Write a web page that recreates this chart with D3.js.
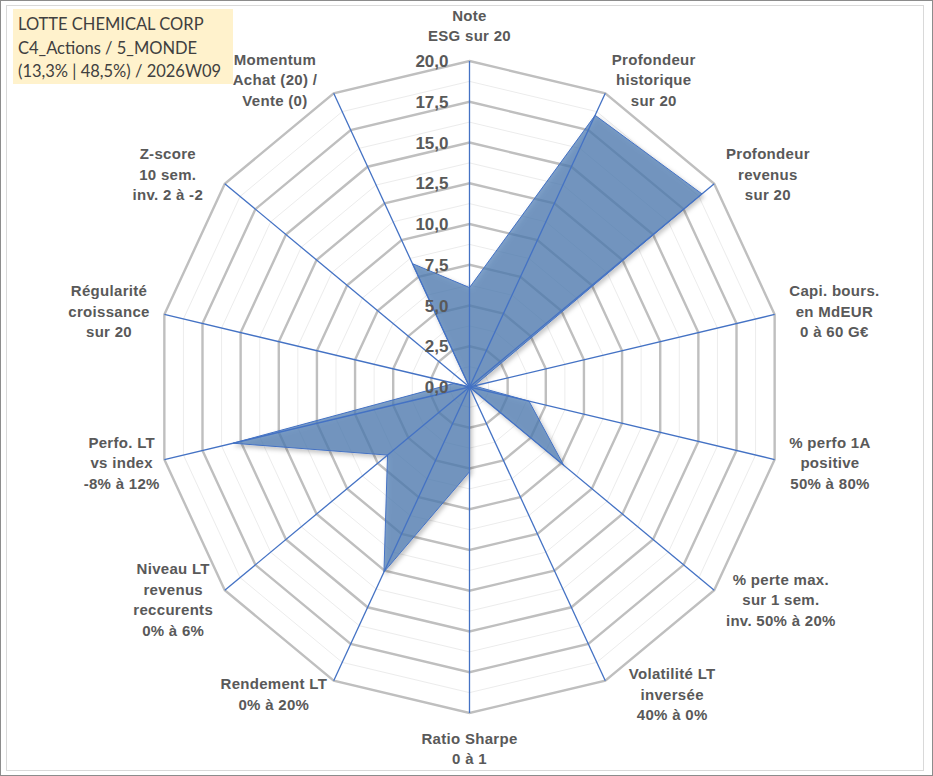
<!DOCTYPE html>
<html><head><meta charset="utf-8">
<script src="https://cdn.jsdelivr.net/npm/d3@7/dist/d3.min.js"></script>
<style>
html,body{margin:0;padding:0;background:#fff;}
svg{display:block;}
</style></head>
<body>
<svg id="chart" width="933" height="776"></svg>
<script>
// ---------- DATA ----------
const categories = [
  ["Note", "ESG sur 20"],
  ["Profondeur", "historique", "sur 20"],
  ["Profondeur", "revenus", "sur 20"],
  ["Capi. bours.", "en MdEUR", "0 à 60 G€"],
  ["% perfo 1A", "positive", "50% à 80%"],
  ["% perte max.", "sur 1 sem.", "inv. 50% à 20%"],
  ["Volatilité LT", "inversée", "40% à 0%"],
  ["Ratio Sharpe", "0 à 1"],
  ["Rendement LT", "0% à 20%"],
  ["Niveau LT", "revenus", "reccurents", "0% à 6%"],
  ["Perfo. LT", "vs index", "-8% à 12%"],
  ["Régularité", "croissance", "sur 20"],
  ["Z-score", "10 sem.", "inv. 2 à -2"],
  ["Momentum", "Achat (20) /", "Vente (0)"]
];
const values = [6.1, 18.5, 19.0, 0.3, 3.9, 7.7, 0.0, 5.2, 12.6, 6.7, 15.5, 1.0, 0.0, 8.4];
const tickValues = [0, 2.5, 5, 7.5, 10, 12.5, 15, 17.5, 20];
const minorValues = [1.25, 3.75, 6.25, 8.75, 11.25, 13.75, 16.25, 18.75];
const titleLines = ["LOTTE CHEMICAL CORP", "C4_Actions / 5_MONDE", "(13,3% | 48,5%) / 2026W09"];

// ---------- LAYOUT ----------
const W = 933, H = 776;
const cx = 469.5, cy = 387, rx = 313, ry = 326;
const n = categories.length;
const svg = d3.select("#chart");

const rScale = d3.scaleLinear().domain([0, 20]).range([0, 1]);
const aScale = d3.scaleLinear().domain([0, n]).range([0, 2 * Math.PI]);
const pt = (i, v) => [cx + rx * rScale(v) * Math.sin(aScale(i)), cy - ry * rScale(v) * Math.cos(aScale(i))];

// defs
const defs = svg.append("defs");
const f = defs.append("filter").attr("id", "shadow").attr("x", "-20%").attr("y", "-20%").attr("width", "140%").attr("height", "140%");
f.append("feDropShadow").attr("dx", 2).attr("dy", 2.5).attr("stdDeviation", 2).attr("flood-color", "#000").attr("flood-opacity", 0.3);

// borders
svg.append("rect").attr("x", 0.5).attr("y", 0.5).attr("width", W - 1).attr("height", H - 1)
  .attr("fill", "#fff").attr("stroke", "#8c8c8c").attr("stroke-width", 1);
svg.append("rect").attr("x", 6.5).attr("y", 5.5).attr("width", 917).attr("height", 765)
  .attr("fill", "none").attr("stroke", "#d9d9d9").attr("stroke-width", 1);

// title box
svg.append("rect").attr("x", 13).attr("y", 9).attr("width", 220).attr("height", 75).attr("fill", "#FFF2CC");
svg.append("g").selectAll("text").data(titleLines).join("text")
  .attr("x", 18).attr("y", (d, i) => 30 + i * 23.5)
  .attr("font-family", "Lato, 'Open Sans', sans-serif").attr("font-size", 16.5)
  .attr("fill", "#404040").text(d => d);

// grid
const idx = d3.range(n);
const ring = v => idx.map(i => pt(i, v).join(",")).join(" ");
svg.append("g").selectAll("polygon").data(minorValues).join("polygon")
  .attr("points", d => ring(d)).attr("fill", "none").attr("stroke", "#ececec").attr("stroke-width", 1);
svg.append("g").selectAll("polygon").data(tickValues.filter(d => d > 0)).join("polygon")
  .attr("points", d => ring(d)).attr("fill", "none").attr("stroke", "#bfbfbf").attr("stroke-width", 2.4)
  .attr("stroke-linejoin", "miter");

// series
const line = d3.line().curve(d3.curveLinearClosed);
svg.append("path").attr("d", line(values.map((v, i) => pt(i, v))))
  .attr("fill", "#4F7CB3").attr("fill-opacity", 0.72)
  .attr("stroke", "#4472C4").attr("stroke-width", 1)
  .attr("filter", "url(#shadow)");

// spokes
svg.append("g").selectAll("line").data(idx).join("line")
  .attr("x1", cx).attr("y1", cy)
  .attr("x2", i => pt(i, 20)[0]).attr("y2", i => pt(i, 20)[1])
  .attr("stroke", "#4472C4").attr("stroke-width", 1.3);

// tick labels
const fmt = d3.format(".1f");
svg.append("g").selectAll("text").data(tickValues).join("text")
  .attr("x", cx - 21).attr("y", d => pt(0, d)[1] + 6)
  .attr("text-anchor", "end")
  .attr("font-family", "'Liberation Sans', Arial, sans-serif").attr("font-weight", "bold")
  .attr("font-size", 17).attr("fill", "#595959")
  .text(d => fmt(d).replace(".", ","));

// axis labels
const nudge = [0, 0, 0, 0, 0, 0, 17, 0, 0, 0, 10, 0, -10, -10];
const LH = 20.5, FS = 15;
const lg = svg.append("g");
categories.forEach((lines, i) => {
  const a = aScale(i), s = Math.sin(a), c = Math.cos(a);
  const [vx, vy] = pt(i, 20);
  const px = vx + s * 15, py = vy - c * 15;
  const g = lg.append("g");
  const texts = g.selectAll("text").data(lines).join("text")
    .attr("text-anchor", "middle")
    .attr("font-family", "'Liberation Sans', Arial, sans-serif").attr("font-weight", "bold")
    .attr("font-size", FS).attr("fill", "#595959").attr("letter-spacing", 0.3)
    .text(d => d);
  let w = 0;
  texts.each(function () { w = Math.max(w, this.getComputedTextLength()); });
  const hgt = lines.length * LH;
  let bx, by;
  if (Math.abs(s) < 0.01) {
    bx = px;
    by = c > 0 ? py - hgt / 2 : py + hgt / 2;
  } else {
    bx = s > 0 ? px + w / 2 : px - w / 2;
    by = py;
  }
  bx += nudge[i];
  texts.attr("x", bx).attr("y", (d, j) => by - hgt / 2 + LH * j + LH / 2 + FS * 0.36);
});
</script>
</body></html>
